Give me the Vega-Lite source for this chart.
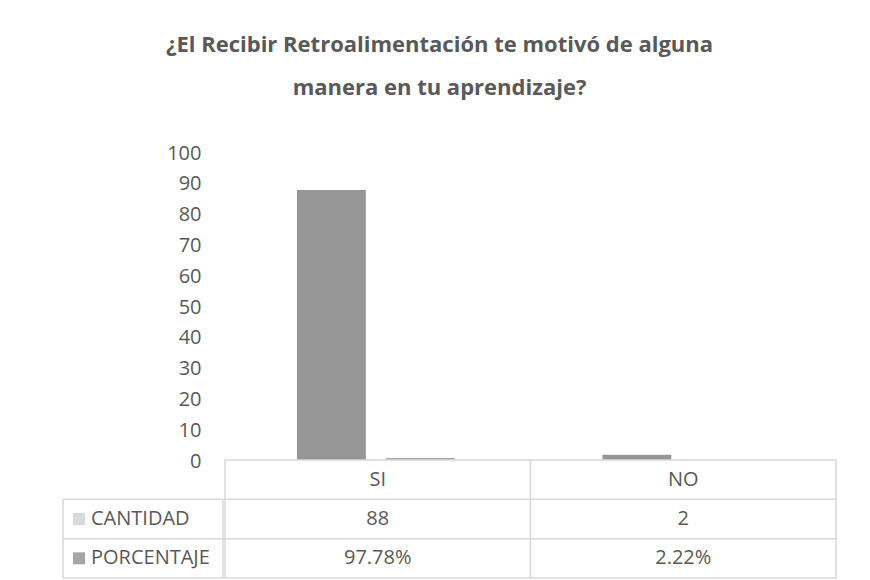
{
  "$schema": "https://vega.github.io/schema/vega-lite/v6.json",
  "background": "white",
  "padding": {"left": 62, "top": 34, "right": 0, "bottom": 0},
  "title": {
    "text": ["¿El Recibir Retroalimentación te motivó de alguna", "manera en tu aprendizaje?"],
    "font": "Open Sans", "fontSize": 22, "fontWeight": "bold", "color": "#595959",
    "lineHeight": 43, "anchor": "middle", "offset": 43, "dx": -10
  },
  "datasets": {
    "tabla": [
      {"categoria": "SI", "serie": "CANTIDAD", "valor": 88},
      {"categoria": "SI", "serie": "PORCENTAJE", "valor": 0.9778},
      {"categoria": "NO", "serie": "CANTIDAD", "valor": 2},
      {"categoria": "NO", "serie": "PORCENTAJE", "valor": 0.0222}
    ]
  },
  "config": {
    "view": {"stroke": null},
    "font": "Open Sans"
  },
  "align": "none",
  "spacing": -12,
  "vconcat": [
    {
      "width": 771,
      "height": 308,
      "data": {"name": "tabla"},
      "mark": {"type": "bar"},
      "encoding": {
        "x": {"field": "categoria", "type": "nominal", "sort": ["SI", "NO"], "scale": {"paddingInner": 0, "paddingOuter": 0.262, "align": 1}, "axis": null},
        "xOffset": {"field": "serie", "type": "nominal", "sort": ["CANTIDAD", "PORCENTAJE"], "scale": {"paddingInner": 0.2247, "paddingOuter": 0.832}},
        "y": {
          "field": "valor", "type": "quantitative",
          "scale": {"domain": [0, 100]},
          "axis": {
            "values": [0, 10, 20, 30, 40, 50, 60, 70, 80, 90, 100],
            "title": null, "domain": false, "ticks": false, "tickSize": 0, "grid": false,
            "offset": -160,
            "labelPadding": 22, "labelFontSize": 20, "labelColor": "#595959", "labelFont": "Open Sans"
          }
        },
        "color": {
          "field": "serie", "type": "nominal",
          "scale": {"domain": ["CANTIDAD", "PORCENTAJE"], "range": ["#969696", "#a6a6a6"]},
          "legend": null
        }
      }
    },
    {
      "spacing": 0,
      "hconcat": [
        {
          "width": 160,
          "height": 118,
          "data": {"name": "tabla"},
          "transform": [{"filter": "datum.categoria === 'SI'"}],
          "encoding": {
            "y": {"field": "serie", "type": "nominal", "scale": {"domain": ["hdr", "CANTIDAD", "PORCENTAJE"], "paddingInner": 0, "paddingOuter": 0}, "axis": null}
          },
          "layer": [
            {"mark": {"type": "rect", "fill": "white", "stroke": "#d9d9d9", "strokeWidth": 1.5}},
            {
              "mark": {"type": "square", "size": 144, "opacity": 1, "xOffset": -64},
              "encoding": {
                "color": {"condition": {"test": "datum.serie === 'CANTIDAD'", "value": "#d9d9d9"}, "value": "#a6a6a6"}
              }
            },
            {
              "mark": {"type": "text", "align": "left", "dx": -52, "fontSize": 20, "color": "#595959", "font": "Open Sans"},
              "encoding": {"text": {"field": "serie"}}
            }
          ]
        },
        {
          "width": 611,
          "height": 118,
          "data": {"name": "tabla"},
          "transform": [
            {"calculate": "datum.serie === 'PORCENTAJE' ? format(datum.valor, '.2%') : format(datum.valor, 'd')", "as": "etiqueta"}
          ],
          "layer": [
            {
              "mark": {"type": "rect", "fill": "white", "stroke": "#d9d9d9", "strokeWidth": 1.5},
              "encoding": {
                "x": {"field": "categoria", "type": "nominal", "sort": ["SI", "NO"], "scale": {"paddingInner": 0, "paddingOuter": 0}, "axis": null},
                "y": {"field": "serie", "type": "nominal", "scale": {"domain": ["hdr", "CANTIDAD", "PORCENTAJE"], "paddingInner": 0, "paddingOuter": 0}, "axis": null}
              }
            },
            {
              "transform": [{"filter": "datum.serie === 'CANTIDAD'"}],
              "mark": {"type": "rect", "fill": "white", "stroke": "#d9d9d9", "strokeWidth": 1.5},
              "encoding": {
                "x": {"field": "categoria", "type": "nominal", "sort": ["SI", "NO"]},
                "y": {"datum": "hdr", "type": "nominal"}
              }
            },
            {
              "mark": {"type": "text", "fontSize": 20, "color": "#595959", "font": "Open Sans"},
              "encoding": {
                "x": {"field": "categoria", "type": "nominal", "sort": ["SI", "NO"]},
                "y": {"field": "serie", "type": "nominal"},
                "text": {"field": "etiqueta"}
              }
            },
            {
              "transform": [{"filter": "datum.serie === 'CANTIDAD'"}],
              "mark": {"type": "text", "fontSize": 20, "color": "#595959", "font": "Open Sans"},
              "encoding": {
                "x": {"field": "categoria", "type": "nominal", "sort": ["SI", "NO"]},
                "y": {"datum": "hdr", "type": "nominal"},
                "text": {"field": "categoria"}
              }
            }
          ]
        }
      ]
    }
  ]
}
